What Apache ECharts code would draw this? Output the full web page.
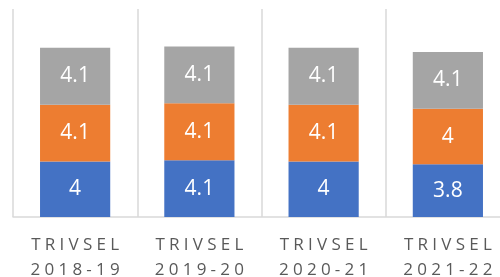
<!DOCTYPE html>
<html>
<head>
<meta charset="utf-8">
<script src="https://cdn.jsdelivr.net/npm/echarts@6/dist/echarts.min.js"></script>
<style>html,body{margin:0;padding:0;background:#fff;}#c{width:500px;height:277px;}</style>
</head>
<body>
<div id="c"></div>
<script>
const categories = ['TRIVSEL\n2018-19', 'TRIVSEL\n2019-20', 'TRIVSEL\n2020-21', 'TRIVSEL\n2021-22'];
const seriesBlue = [4, 4.1, 4, 3.8];
const seriesOrange = [4.1, 4.1, 4.1, 4];
const seriesGray = [4.1, 4.1, 4.1, 4.1];

const SP = '\u2005';
function spaced(s) { return s.split('\n').map(l => l.split('').join(SP)).join('\n'); }

const chart = echarts.init(document.getElementById('c'), null, {renderer: 'canvas'});
const labelStyle = {show: true, position: 'inside', color: '#ffffff', fontSize: 21, fontFamily: 'Open Sans',
  formatter: p => String(p.value)};
function mk(name, data, color) {
  return {name, type: 'bar', stack: 'a', data, barWidth: '56.5%',
    itemStyle: {color}, label: labelStyle, emphasis: {disabled: true}};
}
chart.setOption({
  animation: false,
  grid: {left: 13, width: 497, top: 9, bottom: 60, containLabel: false, outerBoundsMode: 'none'},
  xAxis: {
    type: 'category', data: categories,
    axisLine: {show: true, lineStyle: {color: '#d9d9d9', width: 1.5}},
    axisTick: {show: false},
    splitLine: {show: true, lineStyle: {color: '#d9d9d9', width: 1.5}},
    axisLabel: {color: '#595959', fontSize: 17, fontFamily: 'Open Sans', lineHeight: 25, margin: 16,
      interval: 0, formatter: v => spaced(v)}
  },
  yAxis: {type: 'value', min: 0, max: 15, show: false, splitLine: {show: false}},
  series: [
    mk('Blue', seriesBlue, '#4472c4'),
    mk('Orange', seriesOrange, '#ed7d31'),
    mk('Gray', seriesGray, '#a5a5a5')
  ]
});
</script>
</body>
</html>
